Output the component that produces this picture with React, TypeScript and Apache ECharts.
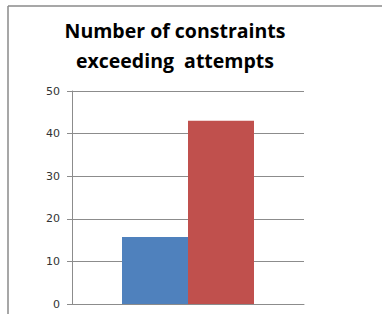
import React, { useEffect, useRef } from "react";
import * as echarts from "echarts";

const titleText = "Number of constraints\nexceeding  attempts";
const categories = [""];
const seriesA = [15.7];
const seriesB = [43];
const yTicks = { min: 0, max: 50, interval: 10 };

export default function App() {
  const ref = useRef<HTMLDivElement>(null);
  useEffect(() => {
    document.body.style.margin = "0";
    const chart = echarts.init(ref.current!, null, { renderer: "svg" });
    chart.setOption({
      animation: false,
      backgroundColor: "#ffffff",
      title: {
        text: titleText,
        left: 170,
        top: 10,
        textAlign: "center",
        textStyle: {
          fontFamily: "Open Sans",
          fontWeight: "bold",
          fontSize: 19.5,
          lineHeight: 30,
          color: "#000000",
        },
      },
      graphic: [
        { type: "line", shape: { x1: 8, y1: 6, x2: 382, y2: 6 }, style: { stroke: "#8a8a8a", lineWidth: 1.5 } },
        { type: "line", shape: { x1: 8, y1: 6, x2: 8, y2: 314 }, style: { stroke: "#8a8a8a", lineWidth: 1.5 } },
      ],
      grid: { left: 72, right: 78, top: 91, bottom: 10, containLabel: false },
      xAxis: {
        type: "category",
        data: categories,
        axisLine: { show: true, lineStyle: { color: "#8c8c8c", width: 1 } },
        axisTick: { show: false },
        axisLabel: { show: false },
      },
      yAxis: {
        type: "value",
        min: yTicks.min,
        max: yTicks.max,
        interval: yTicks.interval,
        axisLine: { show: true, lineStyle: { color: "#8c8c8c", width: 1 } },
        axisTick: { show: true, length: 5, lineStyle: { color: "#8c8c8c" } },
        axisLabel: { margin: 12, fontSize: 11, fontFamily: "DejaVu Sans", color: "#333333" },
        splitLine: { show: true, lineStyle: { color: "#8c8c8c", width: 1 } },
      },
      series: [
        { type: "bar", data: seriesA, barWidth: 66, barGap: "0%", itemStyle: { color: "#4F81BD" } },
        { type: "bar", data: seriesB, barWidth: 66, barGap: "0%", itemStyle: { color: "#C0504D" } },
      ],
    });
    return () => chart.dispose();
  }, []);
  return <div ref={ref} style={{ width: 382, height: 314 }} />;
}
